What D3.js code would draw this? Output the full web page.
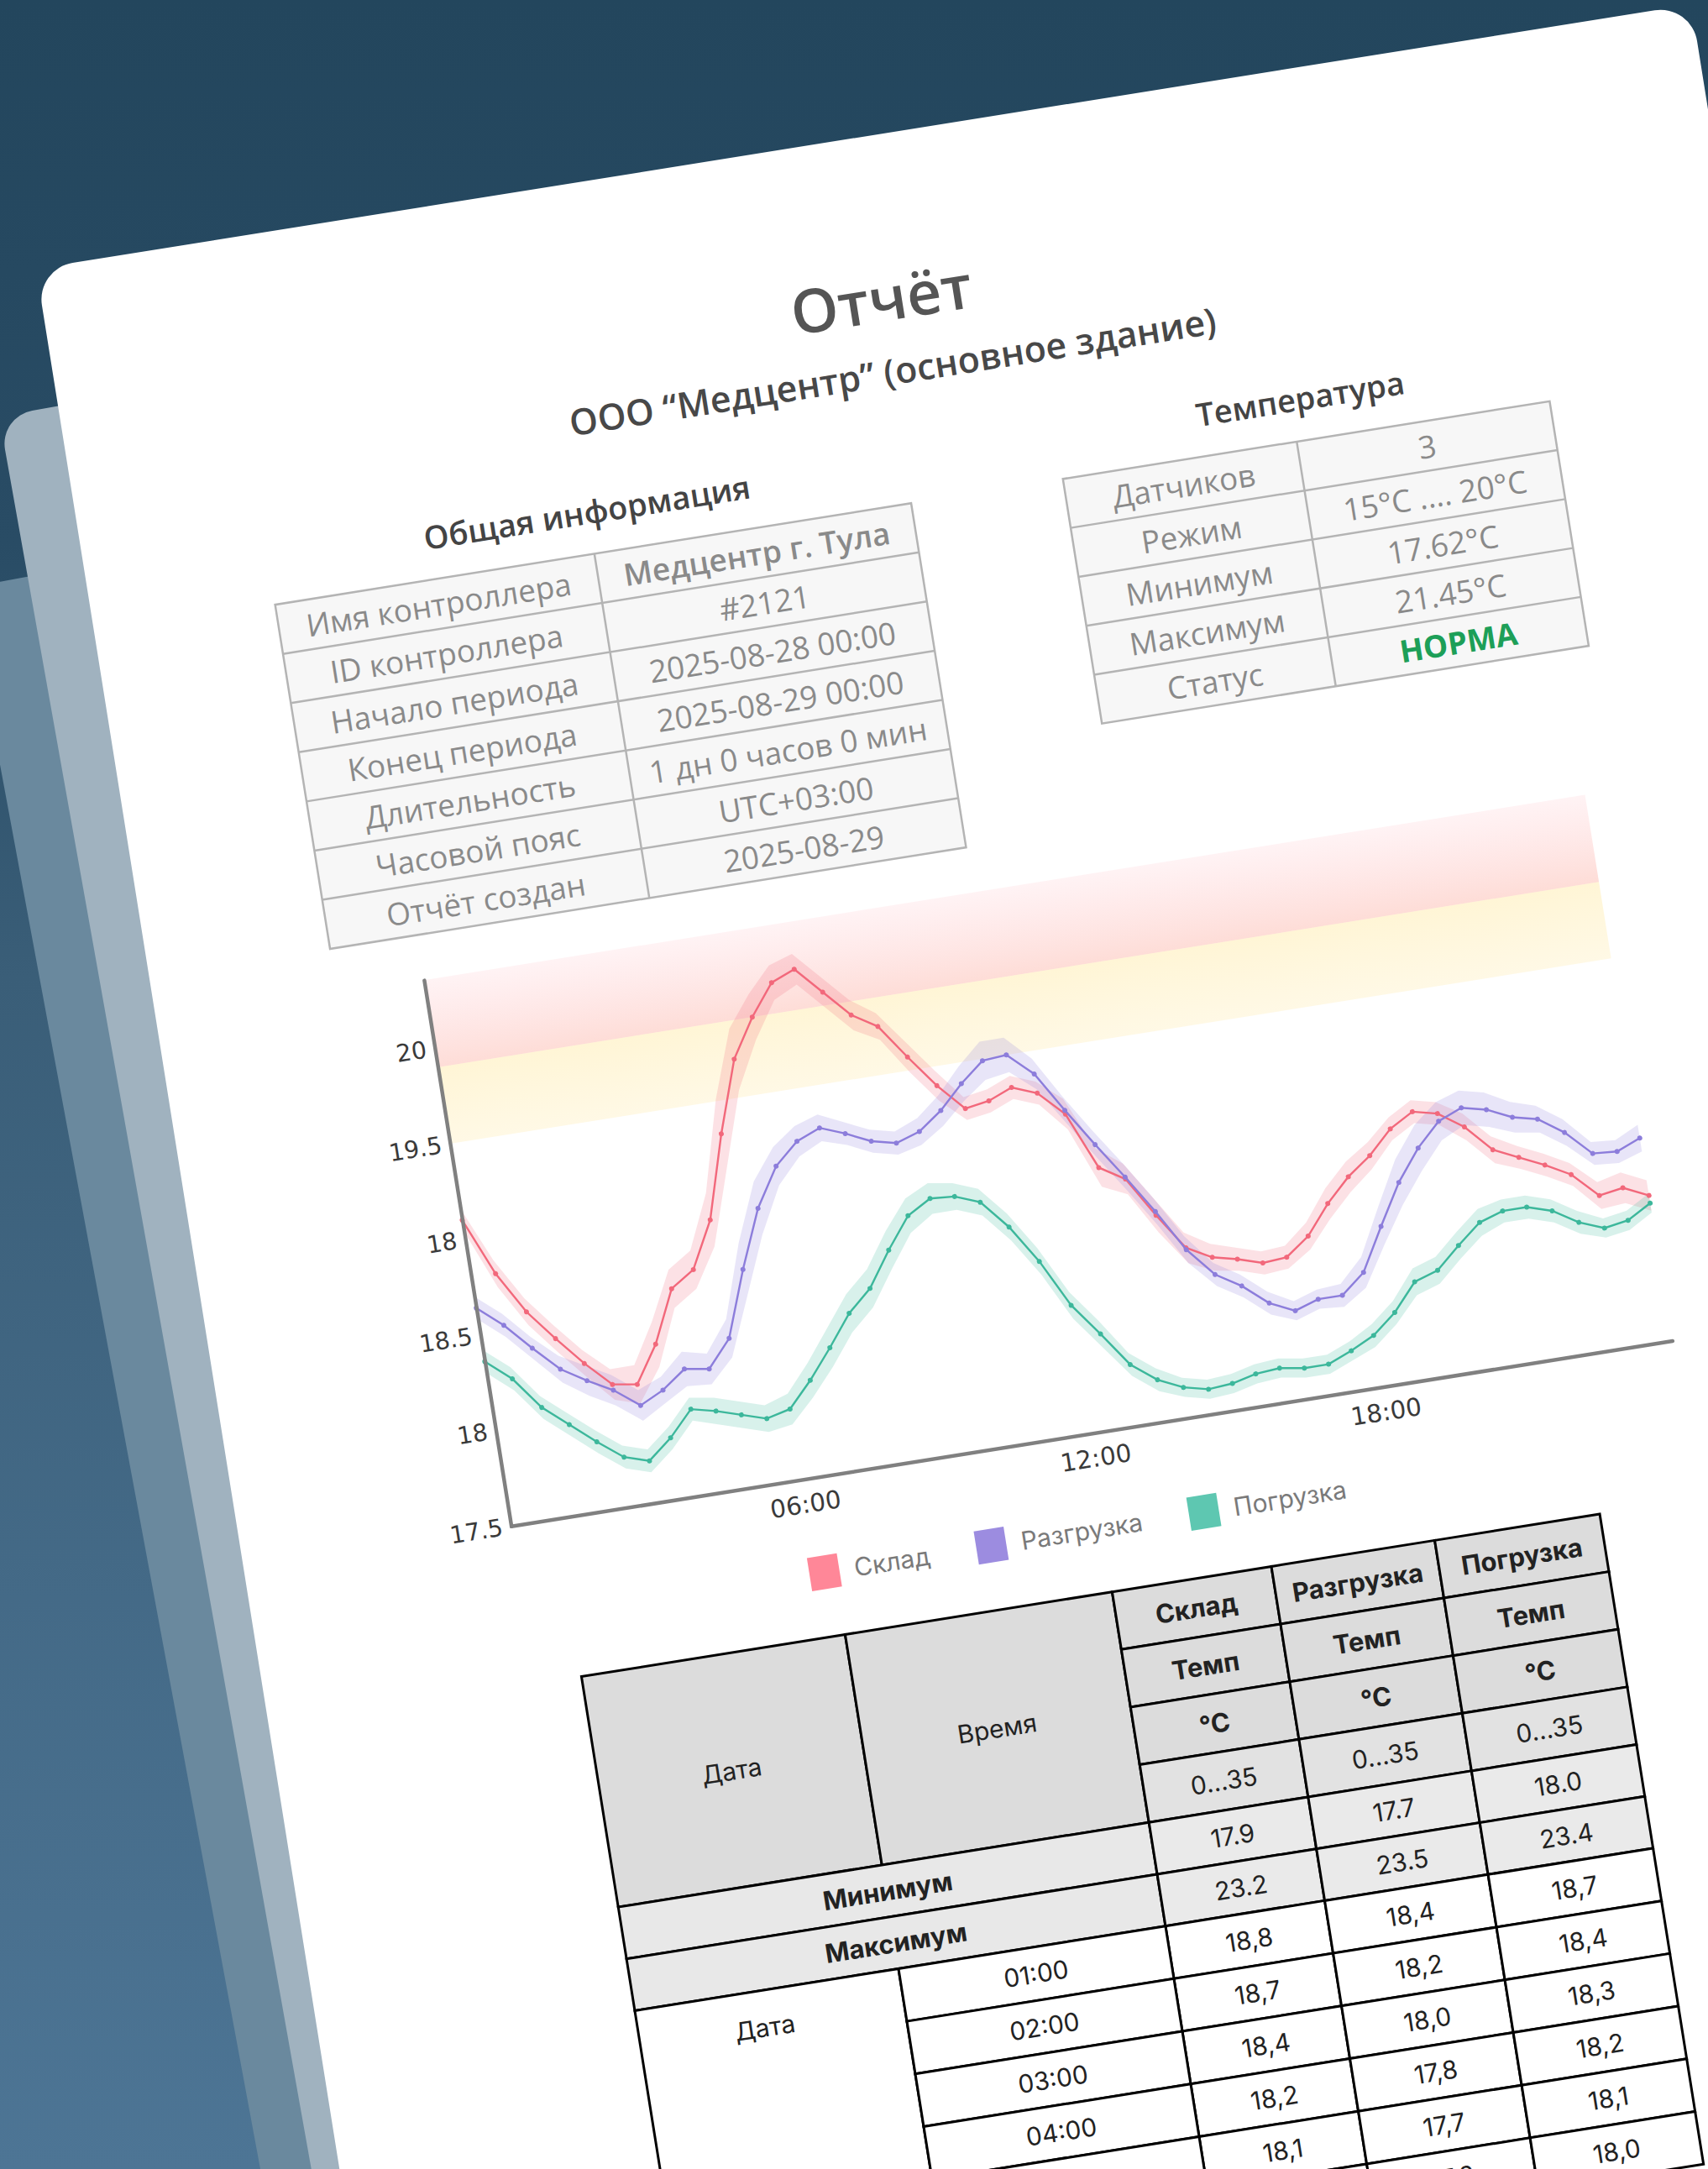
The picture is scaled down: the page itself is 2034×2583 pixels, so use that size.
<!DOCTYPE html>
<html><head><meta charset="utf-8">
<script src="https://cdn.jsdelivr.net/npm/d3@7"></script>
<style>
html,body{margin:0;padding:0;width:2034px;height:2583px;overflow:hidden;background:#23455c;}
svg{display:block}
</style></head><body>
<svg id="c" width="2034" height="2583"></svg>
<script>
// ---------------- DATA ----------------
const times = ["00:00","00:30","01:00","01:30","02:00","02:30","03:00","03:30","04:00","04:30","05:00","05:30","06:00","06:30","07:00","07:30","08:00","08:30","09:00","09:30","10:00","10:30","11:00","11:30","12:00","12:30","13:00","13:30","14:00","14:30","15:00","15:30","16:00","16:30","17:00","17:30","18:00","18:30","19:00","19:30","20:00","20:30","21:00","21:30","22:00","22:30","23:00","23:30","24:00"];
const seriesNames = ["Склад","Разгрузка","Погрузка"];
const skladTemp = [19.10,18.80,18.58,18.42,18.27,18.14,18.12,18.31,18.58,18.66,18.90,19.33,19.70,19.90,20.06,20.11,19.97,19.83,19.75,19.57,19.40,19.26,19.28,19.33,19.28,19.15,18.85,18.77,18.56,18.37,18.30,18.27,18.23,18.24,18.33,18.48,18.60,18.69,18.81,18.88,18.85,18.76,18.62,18.56,18.50,18.43,18.30,18.32,18.26];
const razgruzkaTemp = [18.64,18.53,18.39,18.26,18.18,18.11,18.01,18.07,18.16,18.14,18.28,18.62,18.92,19.12,19.23,19.28,19.23,19.17,19.14,19.18,19.27,19.39,19.49,19.50,19.38,19.17,18.97,18.78,18.58,18.36,18.21,18.13,18.02,17.96,18.00,18.00,18.10,18.32,18.53,18.69,18.81,18.86,18.83,18.77,18.74,18.65,18.52,18.51,18.56];
const pogruzkaTemp = [18.36,18.25,18.08,17.97,17.86,17.76,17.72,17.82,17.95,17.92,17.88,17.84,17.87,18.00,18.15,18.31,18.42,18.60,18.76,18.83,18.82,18.77,18.62,18.42,18.17,18.00,17.82,17.72,17.66,17.63,17.64,17.67,17.68,17.66,17.66,17.71,17.77,17.87,18.01,18.05,18.16,18.26,18.30,18.30,18.26,18.18,18.13,18.15,18.22];
const skladSpread = [0.06,0.07,0.07,0.07,0.07,0.08,0.10,0.12,0.10,0.10,0.14,0.18,0.16,0.12,0.09,0.08,0.08,0.08,0.07,0.08,0.08,0.06,0.06,0.06,0.06,0.08,0.10,0.08,0.09,0.08,0.07,0.06,0.06,0.06,0.07,0.08,0.08,0.07,0.06,0.06,0.06,0.07,0.07,0.06,0.06,0.06,0.07,0.08,0.08];
const razgruzkaSpread = [0.06,0.06,0.06,0.07,0.08,0.08,0.08,0.07,0.09,0.08,0.10,0.14,0.14,0.10,0.08,0.07,0.06,0.06,0.06,0.07,0.08,0.09,0.10,0.09,0.08,0.07,0.07,0.07,0.07,0.07,0.06,0.06,0.06,0.05,0.05,0.06,0.08,0.10,0.12,0.12,0.10,0.09,0.09,0.08,0.07,0.07,0.06,0.06,0.07];
const pogruzkaSpread = [0.06,0.06,0.06,0.06,0.06,0.06,0.06,0.06,0.06,0.07,0.07,0.07,0.08,0.09,0.10,0.10,0.10,0.10,0.09,0.08,0.07,0.07,0.07,0.07,0.07,0.07,0.06,0.06,0.05,0.05,0.05,0.05,0.05,0.05,0.05,0.05,0.06,0.06,0.07,0.07,0.07,0.07,0.06,0.06,0.06,0.06,0.05,0.05,0.05];
const yTickValues = [17.5,18,18.5,19,19.5,20];
const yTickLabels = ["17.5","18","18.5","18","19.5","20"];
const xTickValues = [6,12,18];
const xTickLabels = ["06:00","12:00","18:00"];
const zoneWarn = [19.5,19.9];
const zoneAlarm = [19.9,20.356];

const infoLabels = ["Имя контроллера","ID контроллера","Начало периода","Конец периода","Длительность","Часовой пояс","Отчёт создан"];
const infoValues = ["Медцентр г. Тула","#2121","2025-08-28 00:00","2025-08-29 00:00","1 дн 0 часов 0 мин","UTC+03:00","2025-08-29"];
const tempLabels = ["Датчиков","Режим","Минимум","Максимум","Статус"];
const tempValues = ["3","15°C .... 20°C","17.62°C","21.45°C","НОРМА"];

const tableUnitRows = ["Темп","°C","0...35"];
const tableMin = ["17.9","17.7","18.0"];
const tableMax = ["23.2","23.5","23.4"];
const tableTimes = ["01:00","02:00","03:00","04:00","05:00","06:00"];
const tableSklad = ["18,8","18,7","18,4","18,2","18,1",""];
const tableRazgruzka = ["18,4","18,2","18,0","17,8","17,7","17,6"];
const tablePogruzka = ["18,7","18,4","18,3","18,2","18,1","18,0"];

// ---------------- STYLE ----------------
const lineColors = ["#f2687b","#8c7ddb","#3cb79b"];
const swatchColors = ["#ff8798","#9c8ce0","#5ec7b1"];
const OPEN = "'Open Sans', 'Noto Sans', sans-serif";
const INTER = "Inter, Roboto, sans-serif";
const DEJA = "'DejaVu Sans', Verdana, sans-serif";

const svg = d3.select("#c");
const defs = svg.append("defs");

// background
const bg = defs.append("linearGradient").attr("id","bg").attr("x1",0).attr("y1",0).attr("x2",0).attr("y2",1);
[[0,"#23465d"],[0.25,"#294c65"],[0.45,"#3a5e78"],[1,"#4d7595"]].forEach(s=>bg.append("stop").attr("offset",s[0]).attr("stop-color",s[1]));
svg.append("rect").attr("width",2034).attr("height",2583).attr("fill","url(#bg)");

// back sheets
svg.append("rect").attr("transform","translate(-39,700) rotate(-10.5)").attr("width",2100).attr("height",3200).attr("rx",40).attr("fill","#6a899e");
svg.append("rect").attr("transform","translate(-1,496) rotate(-10.1)").attr("width",2100).attr("height",3200).attr("rx",40).attr("fill","#a0b2bf");

// front page
const page = svg.append("g").attr("transform","translate(43,320) rotate(-9.07)");
page.append("rect").attr("width",1996).attr("height",3400).attr("rx",44).attr("fill","#ffffff");

// titles
page.append("text").attr("x",988).attr("y",193).attr("text-anchor","middle").attr("dominant-baseline","central")
  .attr("font-family",OPEN).attr("font-weight",600).attr("font-size",72).attr("fill","#555").text("Отчёт");
page.append("text").attr("x",988).attr("y",281).attr("text-anchor","middle").attr("dominant-baseline","central")
  .attr("font-family",OPEN).attr("font-weight",600).attr("font-size",43).attr("fill","#484848").text("ООО “Медцентр” (основное здание)");
page.append("text").attr("x",602).attr("y",389).attr("text-anchor","middle").attr("dominant-baseline","central")
  .attr("font-family",OPEN).attr("font-weight",600).attr("font-size",38).attr("fill","#444").text("Общая информация");
page.append("text").attr("x",1462).attr("y",389).attr("text-anchor","middle").attr("dominant-baseline","central")
  .attr("font-family",OPEN).attr("font-weight",600).attr("font-size",38).attr("fill","#444").text("Температура");

function infoTable(x0,x1,xs,y0,rowH,labels,values){
  const g = page.append("g");
  g.append("rect").attr("x",x0).attr("y",y0).attr("width",x1-x0).attr("height",rowH*labels.length)
   .attr("fill","#f7f7f7").attr("stroke","#b4b4b4").attr("stroke-width",2.5);
  labels.forEach((l,i)=>{
    if(i>0) g.append("line").attr("x1",x0).attr("x2",x1).attr("y1",y0+i*rowH).attr("y2",y0+i*rowH).attr("stroke","#b4b4b4").attr("stroke-width",2.5);
    g.append("text").attr("x",(x0+xs)/2).attr("y",y0+(i+0.5)*rowH).attr("text-anchor","middle").attr("dominant-baseline","central")
     .attr("font-family",OPEN).attr("font-size",37).attr("fill","#8a8a8a").text(l);
    const v = values[i];
    g.append("text").attr("x",(xs+x1)/2).attr("y",y0+(i+0.5)*rowH).attr("text-anchor","middle").attr("dominant-baseline","central")
     .attr("font-family",OPEN).attr("font-size",37)
     .attr("font-weight", v==="НОРМА"?700:(i===0&&labels.length===7?600:400))
     .attr("fill", v==="НОРМА"?"#1d9f58":"#8a8a8a").text(v);
  });
  g.append("line").attr("x1",xs).attr("x2",xs).attr("y1",y0).attr("y2",y0+rowH*labels.length).attr("stroke","#b4b4b4").attr("stroke-width",2.5);
}
infoTable(218,985,603,440,59.3,infoLabels,infoValues);
infoTable(1168,1755,1450,440,59,tempLabels,tempValues);

// ---------------- CHART ----------------
const x = d3.scaleLinear().domain([0,24]).range([322.5,1722.7]);
const y = d3.scaleLinear().domain([17.5,20.356]).range([1567.8,909.4]);
const hours = times.map(s=>{const p=s.split(":");return +p[0]+(+p[1])/60;});

const gA = defs.append("linearGradient").attr("id","zAlarm").attr("x1",0).attr("y1",0).attr("x2",0).attr("y2",1);
gA.append("stop").attr("offset",0).attr("stop-color","#ff9aa5").attr("stop-opacity",0.12);
gA.append("stop").attr("offset",1).attr("stop-color","#fb8d7a").attr("stop-opacity",0.3);
const gW = defs.append("linearGradient").attr("id","zWarn").attr("x1",0).attr("y1",0).attr("x2",0).attr("y2",1);
gW.append("stop").attr("offset",0).attr("stop-color","#ffd85a").attr("stop-opacity",0.25);
gW.append("stop").attr("offset",1).attr("stop-color","#ffdc70").attr("stop-opacity",0.18);

const chart = page.append("g");
chart.append("rect").attr("x",x(0)).attr("width",x(24)-x(0)).attr("y",y(zoneAlarm[1])).attr("height",y(zoneAlarm[0])-y(zoneAlarm[1])).attr("fill","url(#zAlarm)");
chart.append("rect").attr("x",x(0)).attr("width",x(24)-x(0)).attr("y",y(zoneWarn[1])).attr("height",y(zoneWarn[0])-y(zoneWarn[1])).attr("fill","url(#zWarn)");

const temps = [skladTemp,razgruzkaTemp,pogruzkaTemp];
const spreads = [skladSpread,razgruzkaSpread,pogruzkaSpread];
const area = d3.area().x(d=>x(d.t)).y0(d=>y(d.v-d.s)).y1(d=>y(d.v+d.s));
const line = d3.line().x(d=>x(d.t)).y(d=>y(d.v));
temps.forEach((arr,si)=>{
  const pts = arr.map((v,i)=>({t:hours[i],v:v,s:spreads[si][i]}));
  chart.append("path").datum(pts).attr("d",area).attr("fill",lineColors[si]).attr("fill-opacity",0.2);
});
temps.forEach((arr,si)=>{
  const pts = arr.map((v,i)=>({t:hours[i],v:v}));
  chart.append("path").datum(pts).attr("d",line).attr("fill","none").attr("stroke",lineColors[si]).attr("stroke-width",2.4);
  chart.selectAll(null).data(pts).enter().append("circle").attr("cx",d=>x(d.t)).attr("cy",d=>y(d.v)).attr("r",3).attr("fill",lineColors[si]);
});

const yAxis = chart.append("g").attr("transform",`translate(${x(0)},0)`)
  .call(d3.axisLeft(y).tickValues(yTickValues).tickFormat((d,i)=>yTickLabels[i]).tickSize(0).tickPadding(10));
const xAxis = chart.append("g").attr("transform",`translate(0,${y(17.5)})`)
  .call(d3.axisBottom(x).tickValues(xTickValues).tickFormat((d,i)=>xTickLabels[i]).tickSize(0).tickPadding(19));
[yAxis,xAxis].forEach(a=>{
  a.select(".domain").attr("stroke","#808080").attr("stroke-width",4.5).attr("stroke-linecap","round");
  a.selectAll("text").attr("font-family",DEJA).attr("font-size",28.5).attr("fill","#3a3a3a");
});
xAxis.selectAll("text").attr("font-size",29.5);

// legend
const legend = page.append("g");
let lx = 0;
const items = [];
seriesNames.forEach((n,i)=>{
  const it = legend.append("g");
  it.append("rect").attr("x",0).attr("y",-20).attr("width",36).attr("height",40).attr("fill",swatchColors[i]);
  const t = it.append("text").attr("x",54).attr("y",0).attr("dominant-baseline","central")
    .attr("font-family",INTER).attr("font-size",30).attr("fill","#7a7a7a").text(n);
  const w = 54 + t.node().getComputedTextLength();
  items.push({g:it,x:lx});
  lx += w + 56;
});
const totalW = lx - 56;
items.forEach(o=>o.g.attr("transform",`translate(${988-totalW/2+o.x},1681)`));

// ---------------- DATA TABLE ----------------
const cols = [377,695,1017,1209,1406,1605];
const rows = [1758,1827.5,1897,1966.5,2036,2098.5,2161,2224.5,2288,2351.5,2415,2478.5,2542];
const tg = page.append("g");
function cell(c0,c1,r0,r1,fill,text,bold,ty,tx){
  tg.append("rect").attr("x",cols[c0]).attr("y",rows[r0]).attr("width",cols[c1]-cols[c0]).attr("height",rows[r1]-rows[r0])
    .attr("fill",fill).attr("stroke","#000").attr("stroke-width",3);
  if(text!==undefined && text!=="")
    tg.append("text").attr("x",(cols[c0]+cols[c1])/2+(tx||0)).attr("y",ty!==undefined?ty:(rows[r0]+rows[r1])/2)
      .attr("text-anchor","middle").attr("dominant-baseline","central").attr("font-family",INTER)
      .attr("font-size",bold?31:30).attr("font-weight",bold?700:400).attr("fill","#222").text(text);
}
cell(0,1,0,4,"#dcdcdc","Дата",false);
cell(1,2,0,4,"#dcdcdc","Время",false);
cell(0,2,4,5,"#e8e8e8","Минимум",true);
cell(0,2,5,6,"#e8e8e8","Максимум",true);
const tableVals = [tableSklad,tableRazgruzka,tablePogruzka];
seriesNames.forEach((n,i)=>{
  const c=2+i;
  cell(c,c+1,0,1,"#dcdcdc",n,true);
  cell(c,c+1,1,2,"#dcdcdc",tableUnitRows[0],true);
  cell(c,c+1,2,3,"#dcdcdc",tableUnitRows[1],true);
  cell(c,c+1,3,4,"#e2e2e2",tableUnitRows[2],false);
  cell(c,c+1,4,5,"#eaeaea",tableMin[i],false);
  cell(c,c+1,5,6,"#eaeaea",tableMax[i],false);
  tableVals[i].forEach((v,k)=>cell(c,c+1,6+k,7+k,"#ffffff",v,false));
});
cell(0,1,6,12,"#ffffff","Дата",false,rows[6]+44,-9);
tableTimes.forEach((t,k)=>cell(1,2,6+k,7+k,"#ffffff",t,false));
</script>
</body></html>
